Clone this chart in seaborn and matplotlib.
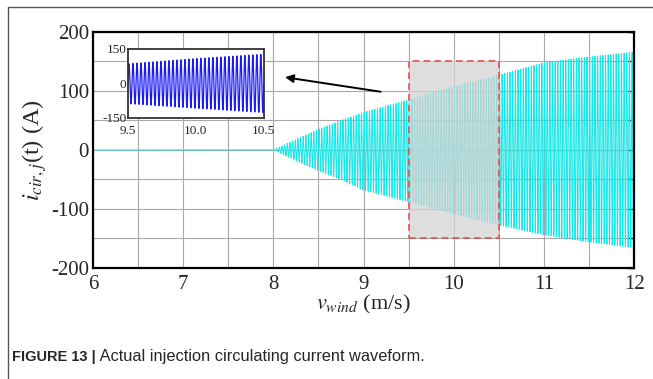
import numpy as np
import pandas as pd
import matplotlib
matplotlib.use("Agg")
import matplotlib.pyplot as plt
import seaborn as sns
from matplotlib.patches import Rectangle
from matplotlib.lines import Line2D

# ---------------- data ----------------
env_v = [8.0, 8.25, 8.5, 8.75, 9.0, 9.5, 10.0, 10.5, 11.0, 11.5, 12.0]
env_upper = [0, 18, 35, 50, 64, 85, 108, 127, 148, 158, 166]
env_lower = [0, -18, -35, -50, -68, -88, -108, -127, -144, -156, -166]
cycles_per_unit = 34
onset_v = 8.0

x_ticks = [6, 7, 8, 9, 10, 11, 12]
y_ticks = [-200, -100, 0, 100, 200]
inset_xticks = [9.5, 10.0, 10.5]
inset_xticklabels = ["9.5", "10.0", "10.5"]
inset_yticks = [-150, 0, 150]
zoom_box = (9.5, 10.5, -150, 150)

caption_bold = "FIGURE 13 |"
caption_text = " Actual injection circulating current waveform."

# build the waveform table from the envelope
v = np.linspace(6, 12, 12001)
carrier = np.sin(2 * np.pi * cycles_per_unit * (v - onset_v))
up = np.interp(v, env_v, env_upper)
lo = np.interp(v, env_v, env_lower)
i_val = np.where(carrier >= 0, carrier * up, -carrier * lo)
i_val = np.where(v < onset_v, 0.0, i_val)
df = pd.DataFrame({"v": v, "i": i_val})
df_in = df[(df.v >= 9.5) & (df.v <= 10.5)]

# ---------------- style ----------------
sns.set_style("white")
plt.rcParams["font.family"] = ["Liberation Serif", "DejaVu Serif"]
plt.rcParams["mathtext.fontset"] = "stix"
plt.rcParams["axes.unicode_minus"] = False

fig = plt.figure(figsize=(6.53, 3.79), dpi=100)
ax = fig.add_axes([0.1424, 0.2929, 0.8286, 0.6227])

sns.lineplot(data=df, x="v", y="i", ax=ax, color="#19e6e6", lw=0.7,
             estimator=None, sort=False, zorder=2)

ax.set_xlim(6, 12)
ax.set_ylim(-200, 200)
ax.set_xticks(x_ticks)
ax.set_xticks(np.arange(6, 12.01, 0.5), minor=True)
ax.set_yticks(y_ticks)
ax.set_yticks(np.arange(-200, 201, 50), minor=True)
ax.grid(True, which="both", color="#a8a8a8", lw=0.8, zorder=0)
ax.set_axisbelow(True)
ax.tick_params(which="both", direction="in", length=4, width=1,
               labelsize=15, right=True, color="black")
ax.tick_params(axis="x", pad=5)
ax.tick_params(axis="y", pad=3)
for s in ax.spines.values():
    s.set_color("black")
    s.set_linewidth(1.6)

ax.set_xlabel(r"$v_{wind}$ (m/s)", fontsize=16, labelpad=-1)
ax.set_ylabel(r"$i_{cir,j}$(t) (A)", fontsize=17.5, labelpad=1)

# zoom box
x0, x1, y0, y1 = zoom_box
ax.add_patch(Rectangle((x0, y0), x1 - x0, y1 - y0, facecolor="#d4d4d4",
                       alpha=0.75, edgecolor="none", zorder=3))
ax.add_patch(Rectangle((x0, y0), x1 - x0, y1 - y0, facecolor="none",
                       edgecolor="#e8504f", ls=(0, (4, 2.5)), lw=1.2, zorder=4))

# arrow
ax.annotate("", xy=(8.10, 124), xytext=(9.22, 98),
            arrowprops=dict(arrowstyle="-|>", color="black", lw=1.4,
                            mutation_scale=12), zorder=5)

# inset
axi = fig.add_axes([0.196, 0.689, 0.208, 0.182])
axi.set_facecolor("white")
sns.lineplot(data=df_in, x="v", y="i", ax=axi, color="#1a1aff", lw=0.9,
             estimator=None, sort=False)
axi.set_xlim(9.5, 10.5)
axi.set_ylim(-150, 150)
axi.set_xticks(inset_xticks)
axi.set_xticklabels(inset_xticklabels)
axi.set_yticks(inset_yticks)
axi.tick_params(axis="y", length=0, labelsize=9.5, pad=1)
axi.tick_params(axis="x", length=0, labelsize=9.5, pad=5)
axi.set_xlabel("")
axi.set_ylabel("")
for s in axi.spines.values():
    s.set_color("#333333")
    s.set_linewidth(1.3)

# figure border
fig.add_artist(Line2D([8 / 653, 1], [1 - 7 / 379, 1 - 7 / 379],
                      transform=fig.transFigure, color="#555555", lw=1))
fig.add_artist(Line2D([8 / 653, 8 / 653], [0, 1 - 7 / 379],
                      transform=fig.transFigure, color="#555555", lw=1))

# caption
t1 = fig.text(12 / 653, 1 - 357 / 379, caption_bold, fontsize=10.5,
              fontweight="bold", family=["Liberation Sans", "DejaVu Sans"],
              va="center", ha="left")
fig.canvas.draw()
bb = t1.get_window_extent()
fig.text(bb.x1 / fig.bbox.width, 1 - 357 / 379, caption_text, fontsize=11.8,
         family=["Liberation Sans", "DejaVu Sans"], va="center", ha="left")

fig.savefig("out.png", dpi=100)
